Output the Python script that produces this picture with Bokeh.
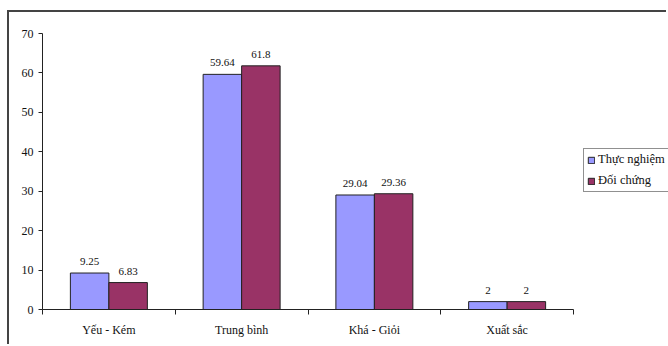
from bokeh.plotting import figure
from bokeh.models import (ColumnDataSource, Range1d, FixedTicker, LinearAxis,
                          Legend, LegendItem, LabelSet)
from bokeh.transform import dodge
from bokeh.embed import file_html
from bokeh.resources import INLINE

categories = ["Yếu - Kém", "Trung bình", "Khá - Giỏi", "Xuất sắc"]
thuc_nghiem = [9.25, 59.64, 29.04, 2]
doi_chung = [6.83, 61.8, 29.36, 2]
series_names = ["Thực nghiệm", "Đối chứng"]
y_ticks = [0, 10, 20, 30, 40, 50, 60, 70]

FONT = "Liberation Serif"
BLUE = "#9999FF"
WINE = "#993366"
INK = "#111111"

# canvas sits inside a framed chart area offset from the page corner
W, H = 659, 334
LEFT, TOP, BOTTOM = 33, 21, 37
AXIS_PX = 531                      # pixel length of the category axis
n = len(categories)
x_end = n * (W - LEFT) / AXIS_PX   # room on the right for the legend

centers = [i + 0.5 for i in range(n)]
src = ColumnDataSource(dict(
    x=centers,
    tn=thuc_nghiem,
    dc=doi_chung,
    tn_lbl=[f"{v:g}" for v in thuc_nghiem],
    dc_lbl=[f"{v:g}" for v in doi_chung],
))

p = figure(width=W, height=H, output_backend="svg", toolbar_location=None,
           x_range=Range1d(0, x_end), y_range=Range1d(0, 70),
           x_axis_type=None, y_axis_type=None,
           min_border_left=LEFT, min_border_right=0,
           min_border_top=TOP, min_border_bottom=BOTTOM)
p.outline_line_color = None
p.xgrid.visible = False
p.ygrid.visible = False
p.background_fill_color = "white"
p.border_fill_color = "white"
p.styles = {"transform": "translate(9px, 12px)",
            "box-shadow": "-2px -2px 0 0 #444444"}

bw = 0.29
r1 = p.vbar(x=dodge("x", -0.145, range=p.x_range), top="tn", width=bw, source=src,
            fill_color=BLUE, line_color="#222222", line_width=1)
r2 = p.vbar(x=dodge("x", 0.145, range=p.x_range), top="dc", width=bw, source=src,
            fill_color=WINE, line_color="#222222", line_width=1)

for col, val, off in (("tn_lbl", "tn", -0.145), ("dc_lbl", "dc", 0.145)):
    p.add_layout(LabelSet(x=dodge("x", off, range=p.x_range), y=val, text=col, source=src,
                          y_offset=8, text_align="center", text_baseline="bottom",
                          text_font=FONT, text_font_size="11px", text_color=INK))

# value axis
yax = LinearAxis(ticker=FixedTicker(ticks=y_ticks, minor_ticks=[]))
yax.axis_line_color = "#222222"
yax.major_tick_line_color = "#222222"
yax.major_tick_out = 4
yax.major_tick_in = 0
yax.major_label_text_font = FONT
yax.major_label_text_font_size = "12px"
yax.major_label_text_color = INK
yax.major_label_standoff = 5
p.add_layout(yax, "left")

# category axis: labels at centers, tick marks at category boundaries
xax = LinearAxis(ticker=FixedTicker(ticks=centers, minor_ticks=list(range(n + 1))),
                 bounds=(0, n))
xax.major_label_overrides = {c: name for c, name in zip(centers, categories)}
xax.axis_line_color = "#222222"
xax.major_tick_line_color = None
xax.minor_tick_line_color = "#222222"
xax.minor_tick_out = 5
xax.minor_tick_in = 0
xax.major_label_text_font = FONT
xax.major_label_text_font_size = "12px"
xax.major_label_text_color = INK
xax.major_label_standoff = 7
p.add_layout(xax, "below")

legend = Legend(items=[LegendItem(label=series_names[0], renderers=[r1]),
                       LegendItem(label=series_names[1], renderers=[r2])],
                location=(541, 117), orientation="vertical",
                label_text_font=FONT, label_text_font_size="12.5px",
                label_text_color=INK,
                glyph_width=8, glyph_height=8, label_standoff=3,
                padding=3, spacing=6, margin=0, label_height=15,
                border_line_color="#222222", border_line_width=1,
                background_fill_color="white")
p.add_layout(legend, "center")

open("out.html", "w").write(file_html(p, INLINE))
